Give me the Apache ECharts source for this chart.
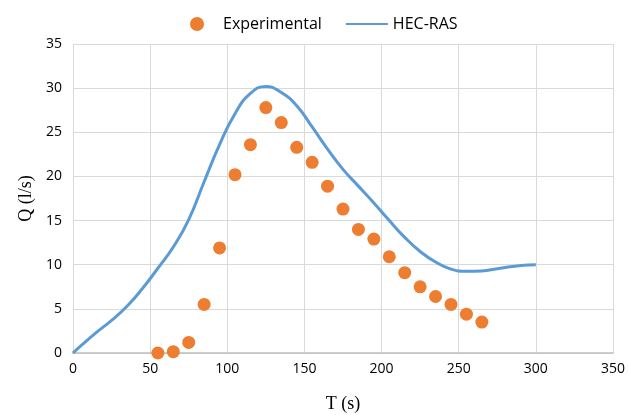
<!DOCTYPE html>
<html>
<head>
<meta charset="utf-8">
<script src="https://cdn.jsdelivr.net/npm/echarts@6/dist/echarts.min.js"></script>
<style>
  html, body { margin: 0; padding: 0; background: #fff; }
  #chart { width: 628px; height: 415px; }
</style>
</head>
<body>
<div id="chart"></div>
<script>
// measured points (T in s, Q in l/s)
const expT = [55, 65, 75, 85, 95, 105, 115, 125, 135, 145, 155, 165, 175, 185, 195, 205, 215, 225, 235, 245, 255, 265];
const expQ = [0, 0.15, 1.2, 5.5, 11.9, 20.2, 23.6, 27.8, 26.1, 23.3, 21.6, 18.9, 16.3, 14.0, 12.9, 10.9, 9.1, 7.5, 6.4, 5.5, 4.4, 3.5];

// HEC-RAS simulated hydrograph
const rasT = [0, 5, 15, 25, 35, 45, 55, 65, 75, 85, 95, 105, 115, 125, 135, 145, 155, 165, 175, 185, 195, 205, 215, 225, 235, 245, 255, 265, 275, 285, 295, 300];
const rasQ = [0, 0.8, 2.3, 3.7, 5.3, 7.3, 9.6, 12.0, 15.1, 19.4, 23.6, 27.1, 29.4, 30.2, 29.5, 28.0, 25.6, 23.1, 20.8, 18.9, 17.0, 15.0, 13.1, 11.5, 10.3, 9.5, 9.25, 9.3, 9.55, 9.8, 9.97, 10.0];

const xTicks = { min: 0, max: 350, step: 50 };
const yTicks = { min: 0, max: 35, step: 5 };

const pair = (xs, ys) => xs.map((x, i) => [x, ys[i]]);

const chart = echarts.init(document.getElementById('chart'), null, { renderer: 'canvas' });
chart.setOption({
	animation: false,
	backgroundColor: '#fff',
	legend: {
		left: 185,
		top: 11,
		itemWidth: 42,
		itemHeight: 14,
		itemGap: 23,
		textStyle: { fontFamily: 'Open Sans', fontSize: 16, color: '#000' },
		data: [
			{ name: 'Experimental', icon: 'circle' },
			{ name: 'HEC-RAS', itemStyle: { opacity: 0 } }
		]
	},
	grid: { left: 73, right: 15, top: 44, bottom: 62, containLabel: false, outerBoundsMode: 'none' },
	xAxis: {
		type: 'value',
		min: xTicks.min,
		max: xTicks.max,
		interval: xTicks.step,
		name: 'T (s)',
		nameLocation: 'middle',
		nameGap: 42,
		nameTextStyle: { fontFamily: 'Liberation Serif', fontSize: 18, color: '#000' },
		axisLine: { lineStyle: { color: '#bfbfbf', width: 1.5 } },
		axisTick: { show: false },
		axisLabel: { fontFamily: 'Open Sans', fontSize: 14, color: '#000', margin: 9 },
		splitLine: { lineStyle: { color: '#d9d9d9', width: 1 } }
	},
	yAxis: {
		type: 'value',
		min: yTicks.min,
		max: yTicks.max,
		interval: yTicks.step,
		name: 'Q (l/s)',
		nameLocation: 'middle',
		nameGap: 37,
		nameTextStyle: { fontFamily: 'Liberation Serif', fontSize: 18, color: '#000' },
		axisLine: { show: false },
		axisTick: { show: false },
		axisLabel: { fontFamily: 'Open Sans', fontSize: 14, color: '#000', margin: 11 },
		splitLine: { lineStyle: { color: '#d9d9d9', width: 1 } }
	},
	series: [
		{
			name: 'Experimental',
			type: 'scatter',
			symbol: 'circle',
			symbolSize: 13,
			itemStyle: { color: '#ED7D31', opacity: 1 },
			data: pair(expT, expQ),
			z: 3
		},
		{
			name: 'HEC-RAS',
			type: 'line',
			smooth: 0.5,
			symbol: 'none',
			lineStyle: { color: '#5B9BD5', width: 3 },
			itemStyle: { color: '#5B9BD5' },
			data: pair(rasT, rasQ),
			z: 2
		}
	]
});
</script>
</body>
</html>
